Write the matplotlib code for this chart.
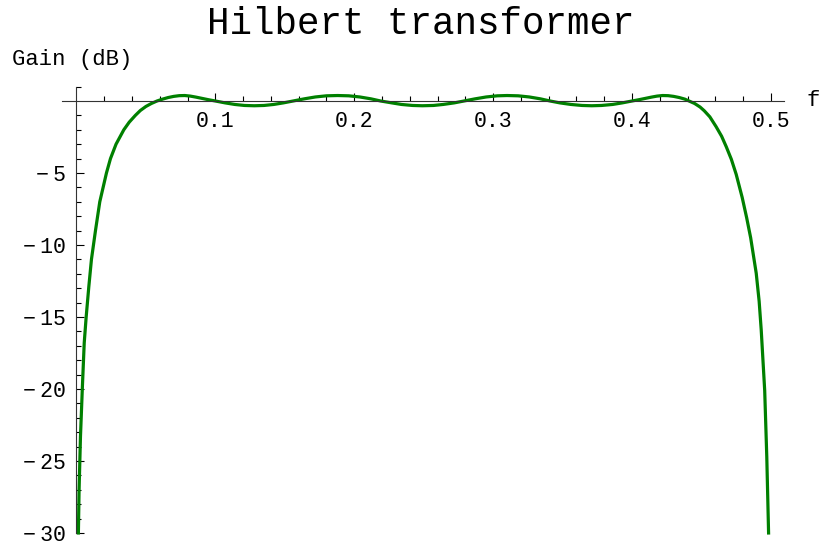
import numpy as np
import matplotlib
matplotlib.use("Agg")
import matplotlib.pyplot as plt

plt.rcParams['font.family'] = ['Liberation Mono', 'DejaVu Sans Mono']

# gain curve of the filter, frequency f (cycles/sample) against gain in dB
freq = [0.0014, 0.0019, 0.0029, 0.0043, 0.0056, 0.0063, 0.0070, 0.0089,
        0.0108, 0.0137, 0.0168, 0.0216, 0.0245, 0.0285, 0.0341, 0.0380,
        0.0424, 0.0460, 0.0500, 0.0540, 0.0580,
        0.0620, 0.0660, 0.0700, 0.0740, 0.0780, 0.0820, 0.0860, 0.0900,
        0.0950, 0.1000,
        0.1070, 0.1140, 0.1210, 0.1280, 0.1350, 0.1420, 0.1490, 0.1560,
        0.1640, 0.1720, 0.1800, 0.1880, 0.1960, 0.2040, 0.2120, 0.2190,
        0.2270, 0.2340, 0.2420, 0.2490, 0.2570, 0.2640, 0.2720, 0.2790,
        0.2870, 0.2950, 0.3030, 0.3100, 0.3180, 0.3260, 0.3340, 0.3410,
        0.3480, 0.3560, 0.3640, 0.3710, 0.3780, 0.3860, 0.3930, 0.4000,
        0.4050, 0.4100, 0.4140, 0.4180, 0.4220, 0.4260, 0.4300, 0.4340,
        0.4380, 0.4410,
        0.4450, 0.4490, 0.4520, 0.4560, 0.4605, 0.4645, 0.4678, 0.4715,
        0.4750, 0.4793, 0.4825, 0.4854, 0.4894, 0.4915, 0.4930, 0.4955,
        0.4970, 0.4983]
gain = [-30.0, -27.0, -23.3, -19.8, -16.8, -15.9, -15.0, -12.9,
        -11.0, -9.0, -7.0, -5.0, -4.0, -3.0, -2.0, -1.47,
        -1.0, -0.66, -0.38, -0.17, 0.0,
        0.13, 0.24, 0.32, 0.37, 0.38, 0.34, 0.27, 0.19,
        0.09, 0.0,
        -0.13, -0.24, -0.31, -0.33, -0.31, -0.24, -0.13, 0.0,
        0.15, 0.28, 0.36, 0.38, 0.36, 0.28, 0.15, 0.0,
        -0.13, -0.24, -0.31, -0.33, -0.31, -0.24, -0.13, 0.0,
        0.15, 0.28, 0.36, 0.38, 0.36, 0.28, 0.15, 0.0,
        -0.13, -0.24, -0.31, -0.33, -0.31, -0.24, -0.13, 0.0,
        0.09, 0.19, 0.27, 0.34, 0.38, 0.37, 0.32, 0.24,
        0.13, 0.0,
        -0.17, -0.42, -0.68, -1.1, -1.78, -2.45, -3.17, -4.05,
        -5.1, -6.7, -8.1, -9.5, -11.96, -13.9, -15.9, -20.1,
        -24.7, -30.0]

xticks = [0.1, 0.2, 0.3, 0.4, 0.5]
yticks = [-30, -25, -20, -15, -10, -5]

fig = plt.figure(figsize=(8.22, 5.44), dpi=100)
ax = fig.add_axes([62/822, 6.7/544, 722/822, 450.7/544])

ax.plot(freq, gain, color='#008000', lw=2.3, solid_joinstyle='round')

ax.set_xlim(-0.0104, 0.5094)
ax.set_ylim(-30.3, 1.0)

# axes through the origin
for s in ['top', 'right']:
    ax.spines[s].set_visible(False)
ax.spines['left'].set_position(('data', 0))
ax.spines['bottom'].set_position(('data', 0))
ax.spines['left'].set_bounds(-30, 1.0)
ax.spines['bottom'].set_bounds(-0.0104, 0.5094)
for s in ['left', 'bottom']:
    ax.spines[s].set_linewidth(0.8)
    ax.spines[s].set_color('#333333')

ax.set_xticks(xticks)
ax.set_xticklabels(['%.1f' % v for v in xticks])
ax.set_xticks([v for v in np.arange(0.02, 0.501, 0.02)
               if min(abs(v - t) for t in xticks) > 1e-6], minor=True)
ax.set_yticks(yticks)
ax.set_yticklabels(['\u2212\u2009%d' % -v for v in yticks],
                   family=['Liberation Mono', 'DejaVu Sans'])
ax.set_yticks([v for v in range(-29, 2) if v % 5 != 0], minor=True)

ax.tick_params(which='both', direction='in', colors='black', width=0.8,
               labelsize=15.5)
ax.tick_params(which='major', length=5.6)
ax.tick_params(which='minor', length=3.5)
ax.tick_params(axis='x', pad=7)
ax.tick_params(axis='y', pad=7.5)

fig.text(421/822, 1 - 34/544, 'Hilbert transformer', fontsize=27,
         ha='center', va='baseline')
fig.text(12/822, 1 - 59/544, 'Gain (dB)', fontsize=16, ha='left',
         va='center')
fig.text(806/822, 1 - 100/544, 'f', fontsize=16, ha='left', va='center')

fig.savefig('out.png', dpi=100)
